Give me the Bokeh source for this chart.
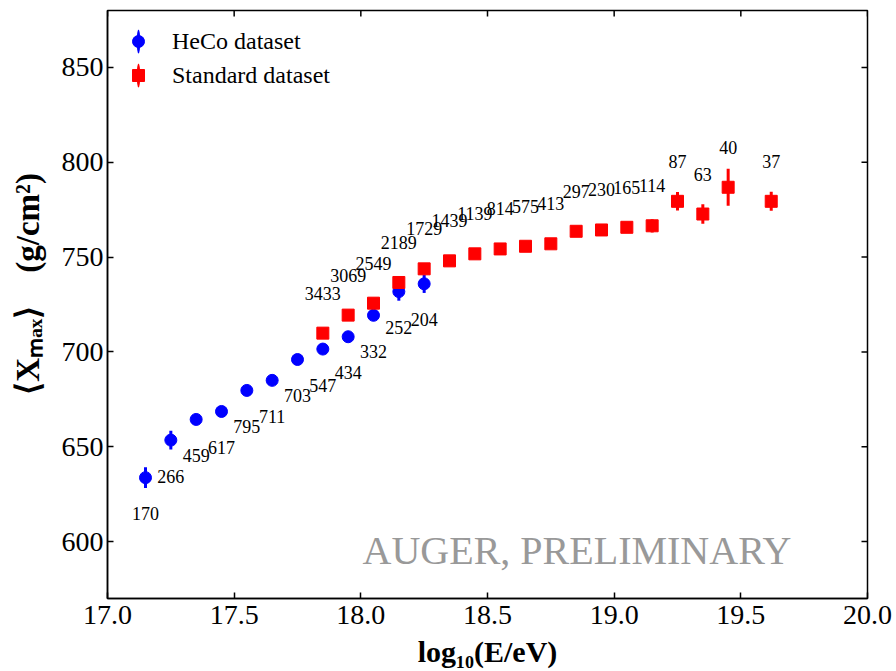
import numpy as np
from bokeh.plotting import figure
from bokeh.models import ColumnDataSource, Range1d, FixedTicker, Label, Legend, LegendItem
from bokeh.core.properties import value
from bokeh.embed import file_html
from bokeh.resources import INLINE

# ---------------- data ----------------
heco_logE = [17.15, 17.25, 17.35, 17.45, 17.55, 17.65, 17.75, 17.85, 17.95, 18.05, 18.15, 18.25]
heco_xmax = [633.7, 653.5, 664.4, 668.6, 679.7, 685.0, 696.0, 701.5, 708.0, 719.3, 731.8, 735.9]
heco_err = [5.5, 5.0, 2.5, 2.0, 2.0, 2.0, 2.0, 2.0, 2.5, 3.0, 4.8, 4.8]
heco_n = [170, 266, 459, 617, 795, 711, 703, 547, 434, 332, 252, 204]

std_logE = [17.85, 17.95, 18.05, 18.15, 18.25, 18.35, 18.45, 18.55, 18.65, 18.75,
            18.85, 18.95, 19.05, 19.15, 19.25, 19.35, 19.45, 19.62]
std_xmax = [709.9, 719.4, 725.7, 736.6, 743.8, 748.0, 751.7, 754.3, 755.7, 757.0,
            763.6, 764.3, 765.7, 766.5, 779.4, 772.7, 786.8, 779.4]
std_err = [1.5, 1.5, 1.5, 1.5, 1.5, 1.5, 1.5, 1.5, 1.5, 1.5,
           2.0, 2.0, 2.5, 3.5, 4.9, 5.1, 9.8, 5.0]
std_n = [3433, 3069, 2549, 2189, 1729, 1439, 1139, 814, 575, 413,
         297, 230, 165, 114, 87, 63, 40, 37]

x_ticks = [17.0, 17.5, 18.0, 18.5, 19.0, 19.5, 20.0]
y_ticks = [600, 650, 700, 750, 800, 850]
x_lim = (17.0, 20.0)
y_lim = (570, 880)

SERIF = "Liberation Serif"
NBSP = "\u00a0"

p = figure(width=896, height=671, output_backend="svg", toolbar_location=None,
           x_range=Range1d(*x_lim), y_range=Range1d(*y_lim),
           min_border_left=107, min_border_right=29, min_border_top=10, min_border_bottom=73)
p.grid.visible = False
p.outline_line_color = "black"
p.outline_line_width = 1.5
p.background_fill_color = "white"

for ax in (p.xaxis[0], p.yaxis[0]):
    ax.major_tick_in = 6
    ax.major_tick_out = 0
    ax.minor_tick_line_color = None
    ax.axis_line_color = "black"
    ax.axis_line_width = 1.5
    ax.major_tick_line_width = 1.5
    ax.major_label_text_font = SERIF
    ax.major_label_text_font_size = "28px"
    ax.major_label_text_color = "black"
    ax.axis_label_text_font = SERIF
    ax.axis_label_text_font_style = "bold"
    ax.axis_label_text_color = "black"

p.xaxis.ticker = FixedTicker(ticks=x_ticks)
p.yaxis.ticker = FixedTicker(ticks=y_ticks)
p.xaxis.major_label_overrides = {t: f"{t:.1f}" for t in x_ticks}
p.xaxis.major_label_standoff = 7
p.yaxis.major_label_standoff = 4
p.xaxis.axis_label = "log\u2081\u2080(E/eV)"
p.yaxis.axis_label = NBSP * 5 + "\u27e8X\u2098\u2090\u2093\u27e9" + NBSP * 4 + "(g/cm\u00b2)"
p.xaxis.axis_label_text_font_size = "30px"
p.yaxis.axis_label_text_font_size = "33px"
p.xaxis.axis_label_standoff = 8
p.yaxis.axis_label_standoff = 13

# inward ticks on top and right edges
p.ray(x=x_ticks, y=[y_lim[1]] * len(x_ticks), length=6, length_units="screen",
      angle=-np.pi / 2, line_color="black", line_width=1.5)
p.ray(x=[x_lim[1]] * len(y_ticks), y=y_ticks, length=6, length_units="screen",
      angle=np.pi, line_color="black", line_width=1.5)

heco = ColumnDataSource(dict(x=heco_logE, y=heco_xmax,
                             lo=[a - b for a, b in zip(heco_xmax, heco_err)],
                             hi=[a + b for a, b in zip(heco_xmax, heco_err)],
                             n=[str(v) for v in heco_n]))
std = ColumnDataSource(dict(x=std_logE, y=std_xmax,
                            lo=[a - b for a, b in zip(std_xmax, std_err)],
                            hi=[a + b for a, b in zip(std_xmax, std_err)],
                            n=[str(v) for v in std_n]))

BLUE = "#0000ff"
RED = "#ff0000"

p.segment(x0="x", y0="lo", x1="x", y1="hi", source=heco, line_color=BLUE, line_width=3)
r_heco = p.scatter(x="x", y="y", source=heco, marker="circle", size=12,
                   fill_color=BLUE, line_color=BLUE)
p.segment(x0="x", y0="lo", x1="x", y1="hi", source=std, line_color=RED, line_width=3)
r_std = p.scatter(x="x", y="y", source=std, marker="square", size=12,
                  fill_color=RED, line_color=RED)

p.text(x="x", y="y", text="n", source=heco, y_offset=36,
       text_align="center", text_baseline="middle",
       text_font=value(SERIF), text_font_size="18px", text_color="black")
p.text(x="x", y="y", text="n", source=std, y_offset=-40,
       text_align="center", text_baseline="middle",
       text_font=value(SERIF), text_font_size="18px", text_color="black")

# legend helpers: thin vertical ellipse acting as the error-bar stroke
d_heco = p.ellipse(x=[np.nan], y=[np.nan], width=3, height=20,
                   width_units="screen", height_units="screen",
                   fill_color=BLUE, line_color=None)
d_std = p.ellipse(x=[np.nan], y=[np.nan], width=3, height=20,
                  width_units="screen", height_units="screen",
                  fill_color=RED, line_color=None)

legend = Legend(items=[LegendItem(label="HeCo dataset", renderers=[d_heco, r_heco]),
                       LegendItem(label="Standard dataset", renderers=[d_std, r_std])],
                location="top_left")
legend.margin = 16
legend.padding = 10
legend.glyph_width = 30
legend.glyph_height = 30
legend.spacing = 4
legend.label_standoff = 19
legend.label_text_font = SERIF
legend.label_text_font_size = "24px"
legend.label_text_color = "black"
legend.border_line_color = None
legend.background_fill_alpha = 0
p.add_layout(legend)

p.add_layout(Label(x=19.70, y=595.5, text="AUGER, PRELIMINARY", text_align="right",
                   text_baseline="alphabetic", text_font=SERIF, text_font_size="40px",
                   text_color="#999999"))

open("out.html", "w").write(file_html(p, INLINE))
